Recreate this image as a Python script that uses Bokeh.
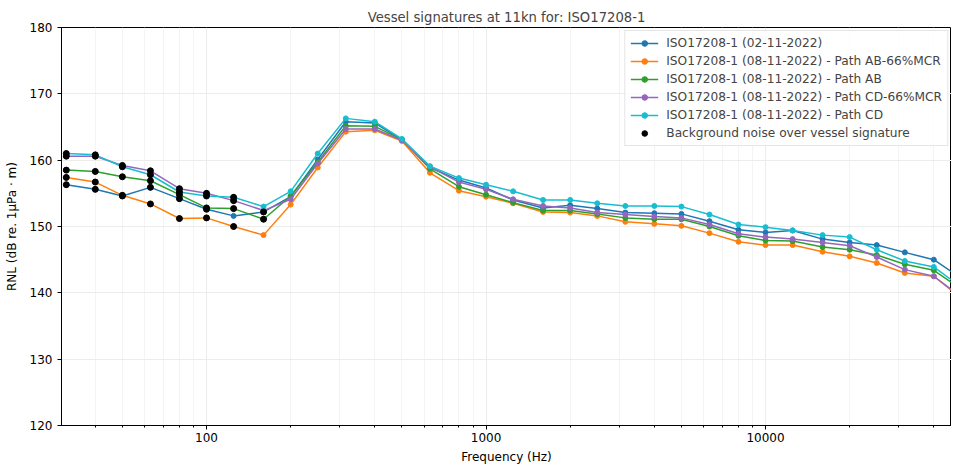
from bokeh.plotting import figure
from bokeh.models import Range1d, FixedTicker, NumeralTickFormatter, Legend, LegendItem
from bokeh.embed import file_html
from bokeh.resources import INLINE

# --- data -----------------------------------------------------------------
freqs = [31.5, 40, 50, 63, 80, 100, 125, 160, 200, 250, 315, 400, 500, 630, 800,
         1000, 1250, 1600, 2000, 2500, 3150, 4000, 5000, 6300, 8000, 10000, 12500,
         16000, 20000, 25000, 31500, 40000, 50000]

rnl_0211 = [156.3, 155.6, 154.6, 155.9, 154.2, 152.6, 151.6, 152.2, 154.5, 160.1, 165.8,
            165.6, 163.1, 158.9, 157.0, 155.8, 154.0, 152.8, 153.2, 152.7, 152.1, 152.0,
            151.9, 150.8, 149.5, 149.1, 149.4, 148.1, 147.6, 147.2, 146.1, 145.0, 142.2]
rnl_ab66 = [157.4, 156.7, 154.7, 153.4, 151.2, 151.3, 150.0, 148.7, 153.3, 158.9, 164.3,
            164.5, 162.9, 158.1, 155.4, 154.5, 153.5, 152.2, 152.1, 151.6, 150.7, 150.4,
            150.1, 149.0, 147.7, 147.2, 147.2, 146.2, 145.5, 144.5, 143.0, 142.5, 139.2]
rnl_ab = [158.5, 158.3, 157.5, 156.9, 154.8, 152.8, 152.7, 151.1, 154.6, 159.7, 165.2,
          165.1, 163.1, 158.7, 156.0, 154.8, 153.6, 152.4, 152.4, 151.9, 151.3, 151.1,
          151.1, 150.0, 148.6, 147.9, 147.8, 146.9, 146.5, 145.7, 144.3, 143.4, 140.6]
rnl_cd66 = [160.6, 160.6, 159.2, 158.4, 155.7, 155.0, 153.9, 152.4, 154.1, 159.5, 164.7,
            164.7, 163.0, 159.0, 156.7, 155.6, 154.1, 153.1, 152.8, 152.1, 151.8, 151.5,
            151.3, 150.3, 148.9, 148.4, 148.1, 147.6, 147.1, 145.4, 143.5, 142.5, 139.4]
rnl_cd = [161.0, 160.8, 159.0, 157.8, 155.2, 154.6, 154.4, 153.0, 155.3, 161.0, 166.3,
          165.8, 163.2, 159.1, 157.3, 156.3, 155.3, 154.0, 154.0, 153.5, 153.1, 153.1,
          153.0, 151.8, 150.3, 149.9, 149.4, 148.7, 148.4, 146.5, 144.8, 143.9, 140.9]

# bands where background noise is above the vessel signature
bg_0211 = [31.5, 40, 50, 63, 80, 100, 160]
bg_ab66 = [31.5, 40, 50, 63, 80, 100, 125]
bg_ab = [31.5, 40, 50, 63, 80, 100, 125, 160]
bg_cd66 = [31.5, 40, 50, 63, 80, 100, 125]
bg_cd = [31.5, 40, 50, 63, 80, 100, 125]

labels = ["ISO17208-1 (02-11-2022)",
          "ISO17208-1 (08-11-2022) - Path AB-66%MCR",
          "ISO17208-1 (08-11-2022) - Path AB",
          "ISO17208-1 (08-11-2022) - Path CD-66%MCR",
          "ISO17208-1 (08-11-2022) - Path CD"]
bg_label = "Background noise over vessel signature"

x_major = [100, 1000, 10000]
x_minor = [40, 50, 60, 70, 80, 90, 200, 300, 400, 500, 600, 700, 800, 900,
           2000, 3000, 4000, 5000, 6000, 7000, 8000, 9000, 20000, 30000, 40000]
y_ticks = [120, 130, 140, 150, 160, 170, 180]

colors = ["#1f77b4", "#ff7f0e", "#2ca02c", "#9467bd", "#17becf"]
FONT = "DejaVu Sans"

# --- figure ---------------------------------------------------------------
p = figure(width=951, height=466, x_axis_type="log",
           x_range=Range1d(30.28, 46270), y_range=Range1d(120, 180),
           output_backend="svg", toolbar_location=None,
           min_border_left=61, min_border_right=0, min_border_top=27, min_border_bottom=41,
           title="Vessel signatures at 11kn for: ISO17208-1")

p.title.align = "center"
p.title.text_font = FONT
p.title.text_font_size = "13.2px"
p.title.text_font_style = "normal"
p.title.standoff = 5
p.title.offset = 0

xt = FixedTicker(ticks=x_major, minor_ticks=x_minor)
yt = FixedTicker(ticks=y_ticks)
p.xaxis.ticker = xt
p.yaxis.ticker = yt
p.xgrid.ticker = xt
p.ygrid.ticker = yt
p.xaxis.formatter = NumeralTickFormatter(format="0")

for ax in (p.xaxis[0], p.yaxis[0]):
    ax.axis_line_color = "black"
    ax.major_tick_line_color = "black"
    ax.minor_tick_line_color = "black"
    ax.major_tick_out = 4
    ax.major_tick_in = 0
    ax.minor_tick_out = 2
    ax.minor_tick_in = 0
    ax.major_label_text_font = FONT
    ax.major_label_text_font_size = "12px"
    ax.major_label_text_color = "black"
    ax.axis_label_text_font = FONT
    ax.axis_label_text_font_size = "12px"
    ax.axis_label_text_font_style = "normal"
    ax.axis_label_text_color = "black"

p.xaxis.axis_label = "Frequency (Hz)"
p.xaxis.major_label_standoff = 3
p.xaxis.axis_label_standoff = 5
p.yaxis.axis_label = "RNL (dB re. 1μPa · m)"
p.yaxis.major_label_standoff = 5
p.yaxis.axis_label_standoff = 8

p.xgrid.grid_line_color = "#ececec"
p.xgrid.minor_grid_line_color = "#f4f4f4"
p.ygrid.grid_line_color = "#ececec"
p.outline_line_color = "black"
p.outline_line_width = 1

# --- series ---------------------------------------------------------------
all_series = [rnl_0211, rnl_ab66, rnl_ab, rnl_cd66, rnl_cd]
all_bg = [bg_0211, bg_ab66, bg_ab, bg_cd66, bg_cd]

items = []
for lab, vals, col in zip(labels, all_series, colors):
    ln = p.line(freqs, vals, line_color=col, line_width=1.5)
    sc = p.scatter(freqs, vals, size=5, fill_color=col, line_color=col)
    items.append(LegendItem(label=lab, renderers=[ln, sc]))

bx, by = [], []
for vals, bgf in zip(all_series, all_bg):
    for f in bgf:
        bx.append(f)
        by.append(vals[freqs.index(f)])
bsc = p.scatter(bx, by, size=6, fill_color="black", line_color="black")
items.append(LegendItem(label=bg_label, renderers=[bsc]))

legend = Legend(items=items, location="top_right", margin=3, padding=5,
                spacing=4, glyph_width=28, glyph_height=14, label_height=14,
                label_standoff=8, label_text_font=FONT, label_text_font_size="12.2px",
                border_line_color="#cccccc", background_fill_alpha=0.8)
p.add_layout(legend)

open("out.html", "w").write(file_html(p, INLINE))
